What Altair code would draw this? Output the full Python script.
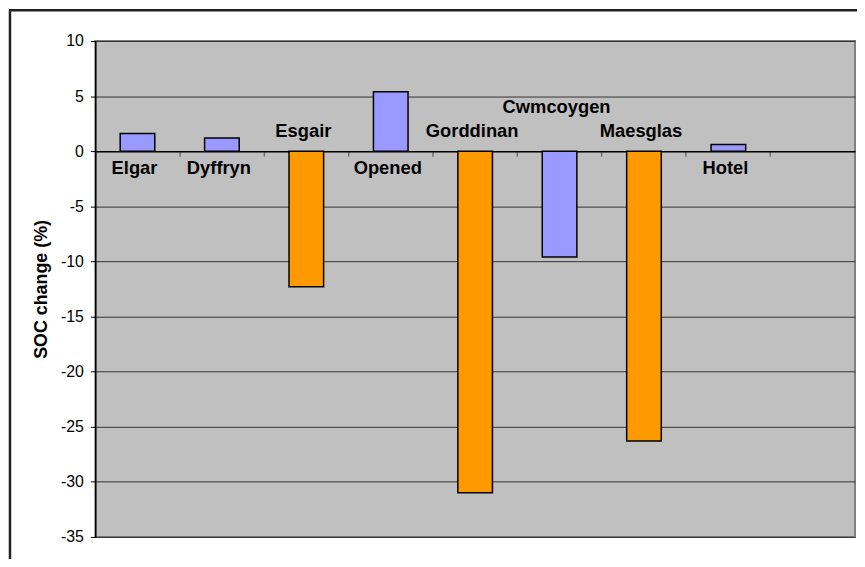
import altair as alt
import pandas as pd

# ---- data ----
sites = ["Elgar", "Dyffryn", "Esgair", "Opened", "Gorddinan", "Cwmcoygen", "Maesglas", "Hotel"]
soc_change = [1.6, 1.2, -12.3, 5.4, -31.0, -9.6, -26.3, 0.6]
groups = ["A", "A", "B", "A", "B", "A", "B", "A"]
category_slots = sites + [" "]          # ninth, empty slot at the right
labels_below = ["Elgar", "Dyffryn", "Opened", "Hotel"]
labels_above = ["Esgair", "Gorddinan", "Maesglas"]
labels_high = ["Cwmcoygen"]
y_ticks = [-35, -30, -25, -20, -15, -10, -5, 0, 5, 10]

df = pd.DataFrame({"site": sites, "change": soc_change, "group": groups})
one = pd.DataFrame({"k": [0]})

W, H = 766, 500
YMIN, YMAX = -35, 10
zero_offset = -H * (0 - YMIN) / (YMAX - YMIN)

FONT = "Liberation Sans"

xscale = alt.Scale(domain=category_slots, paddingInner=0, paddingOuter=0)
yscale = alt.Scale(domain=[YMIN, YMAX], nice=False, zero=False)

x_enc = alt.X(
    "site:N",
    scale=xscale,
    sort=category_slots,
    axis=alt.Axis(
        orient="bottom",
        offset=zero_offset,
        labels=False,
        title=None,
        grid=False,
        domainColor="#000000",
        domainWidth=1.5,
        tickColor="#707070",
        tickWidth=1.5,
        tickSize=5,
        bandPosition=0,
    ),
)

y_enc = alt.Y(
    "change:Q",
    scale=yscale,
    axis=alt.Axis(
        values=y_ticks,
        labelExpr="'' + datum.value",
        grid=True,
        gridColor="#333333",
        gridWidth=1,
        domainColor="#000000",
        domainWidth=1.5,
        tickColor="#000000",
        tickSize=5,
        labelFont=FONT,
        labelFontSize=16,
        labelColor="#000000",
        labelPadding=7,
        title="SOC change (%)",
        titleFont=FONT,
        titleFontSize=18,
        titleFontWeight="bold",
        titleColor="#000000",
        titlePadding=10,
    ),
)

bars = alt.Chart(df).mark_bar(
    stroke="#000000", strokeWidth=1.5, width={"band": 0.41}
).encode(
    x=x_enc,
    y=y_enc,
    color=alt.Color(
        "group:N",
        scale=alt.Scale(domain=["A", "B"], range=["#9999FF", "#FF9900"]),
        legend=None,
    ),
)


def label_layer(names, dy):
    return (
        alt.Chart(df)
        .transform_filter(alt.FieldOneOfPredicate(field="site", oneOf=names))
        .mark_text(font=FONT, fontSize=18.5, fontWeight="bold", color="#000000",
                   dy=dy, dx=-3, baseline="middle", align="center")
        .encode(x=alt.X("site:N", scale=xscale, sort=category_slots),
                y=alt.datum(0), text="site:N")
    )


lab_below = label_layer(labels_below, 17)
lab_above = label_layer(labels_above, -20)
lab_high = label_layer(labels_high, -45)

frame_left = alt.Chart(one).mark_rule(color="#202020", strokeWidth=2.5).encode(
    x=alt.value(-86), y=alt.value(-31), y2=alt.value(540)
)
frame_top = alt.Chart(one).mark_rule(color="#202020", strokeWidth=2.5).encode(
    x=alt.value(-87), x2=alt.value(790), y=alt.value(-31)
)

chart = (
    alt.layer(bars, lab_below, lab_above, lab_high, frame_left, frame_top)
    .properties(
        width=W,
        height=H,
        autosize=alt.AutoSizeParams(type="none"),
        padding={"left": 88, "top": 31, "right": 2, "bottom": 20},
        background="#FFFFFF",
    )
    .configure_view(fill="#C0C0C0", stroke="#808080", strokeWidth=2)
)

chart.save("out.html", embed_options={"renderer": "svg", "actions": False})
